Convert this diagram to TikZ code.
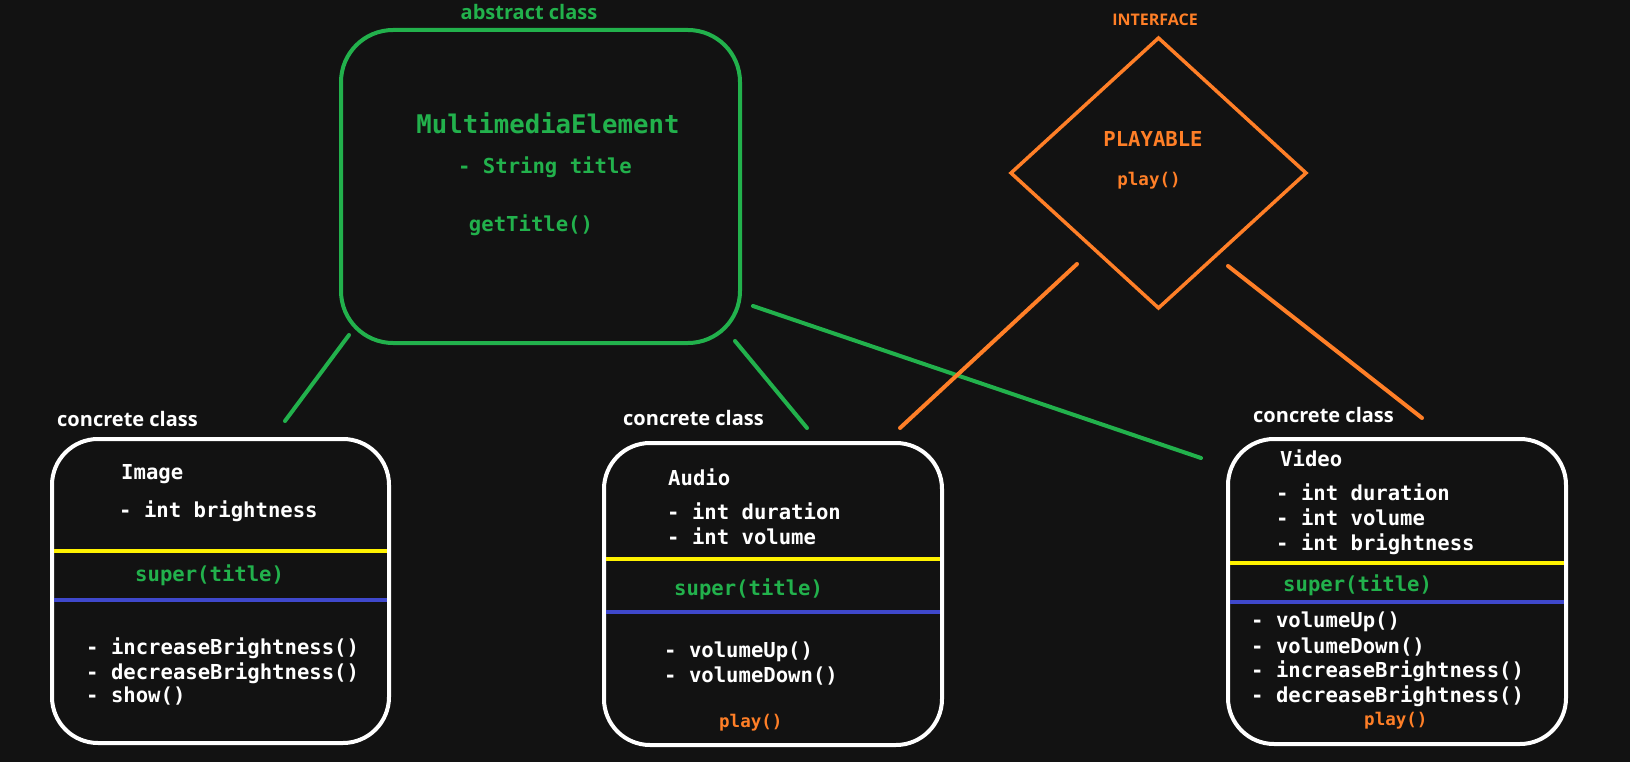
\documentclass[tikz,border=0pt]{standalone}
\usepackage{fontspec}
\setmainfont{Open Sans}
\newfontfamily\codefont{DejaVu Sans Mono}
\usetikzlibrary{shapes.geometric}
\definecolor{bg}{HTML}{121212}
\definecolor{pgreen}{HTML}{22B14C}
\definecolor{porange}{HTML}{FF7F27}
\definecolor{pyellow}{HTML}{FFF200}
\definecolor{pblue}{HTML}{3F48CC}
\begin{document}
\begin{tikzpicture}[x=1pt,y=-1pt,
  classbox/.style={draw=white, line width=4pt, rounded corners=46pt, inner sep=0pt, outer sep=0pt, anchor=north west},
  absbox/.style={draw=pgreen, line width=4pt, rounded corners=52pt, inner sep=0pt, outer sep=0pt, anchor=north west},
  iface/.style={draw=porange, line width=3.5pt, shape=diamond, inner sep=0pt, outer sep=0pt},
  lbl/.style={font=\bfseries\fontsize{20}{24}\selectfont, text=white, inner sep=0pt, anchor=base west},
  code/.style={font=\codefont\bfseries\fontsize{20.6}{24}\selectfont, text=white, inner sep=0pt, anchor=base west},
  bigcode/.style={font=\codefont\bfseries\fontsize{25.7}{30}\selectfont, text=pgreen, inner sep=0pt, anchor=base},
  smallcode/.style={font=\codefont\bfseries\fontsize{17.5}{21}\selectfont, text=porange, inner sep=0pt, anchor=base west},
  gline/.style={draw=pgreen, line width=4pt, line cap=round},
  oline/.style={draw=porange, line width=4pt, line cap=round},
  ysep/.style={draw=pyellow, line width=4.5pt},
  bsep/.style={draw=pblue, line width=4.5pt}]
\fill[bg] (0,0) rectangle (1630,762);
\useasboundingbox (0,0) rectangle (1630,762);

% abstract class
\node[absbox, minimum width=399pt, minimum height=313pt] (abs) at (341,30) {};
\node[lbl, text=pgreen, anchor=base] (abslbl) at (529,19.5) {abstract class};
\node[bigcode] (absname) at (548,133.5) {MultimediaElement};
\node[code, text=pgreen, anchor=base] (absattr) at (545,174) {- String title};
\node[code, text=pgreen, anchor=base] (absmeth) at (531,231) {getTitle()};

% interface
\node[iface, minimum width=295pt, minimum height=270pt] (play) at (1158.5,173) {};
\node[font=\bfseries\fontsize{16}{19}\selectfont, text=porange, inner sep=0pt, anchor=base] (ifacelbl) at (1155,26) {INTERFACE};
\node[code, text=porange, anchor=base] (playname) at (1153,146.5) {PLAYABLE};
\node[smallcode, anchor=base] (playmeth) at (1149,185.5) {play()};

% Image
\node[classbox, minimum width=337pt, minimum height=304pt] (img) at (52,439) {};
\draw[ysep] (54,551) -- (387,551);
\draw[bsep] (54,600) -- (387,600);
\node[lbl] (imglbl) at (57,426.5) {concrete class};
\node[code] (imgname) at (121,479) {Image};
\node[code] (imga1) at (119,517) {- int brightness};
\node[code, text=pgreen] (imgsup) at (135,581) {super(title)};
\node[code] (imgm1) at (86,654) {- increaseBrightness()};
\node[code] (imgm2) at (86,679) {- decreaseBrightness()};
\node[code] (imgm3) at (86,702) {- show()};

% Audio
\node[classbox, minimum width=338pt, minimum height=302pt] (aud) at (604,443) {};
\draw[ysep] (606,559) -- (940,559);
\draw[bsep] (606,612) -- (940,612);
\node[lbl] (audlbl) at (623,425.5) {concrete class};
\node[code] (audname) at (668,485) {Audio};
\node[code] (auda1) at (667,519) {- int duration};
\node[code] (auda2) at (667,544) {- int volume};
\node[code, text=pgreen] (audsup) at (674,595) {super(title)};
\node[code] (audm1) at (664,657) {- volumeUp()};
\node[code] (audm2) at (664,682) {- volumeDown()};
\node[smallcode] (audplay) at (719,727) {play()};

% Video
\node[classbox, minimum width=338pt, minimum height=305pt] (vid) at (1228,439) {};
\draw[ysep] (1230,563) -- (1564,563);
\draw[bsep] (1230,602) -- (1564,602);
\node[lbl] (vidlbl) at (1253,422.5) {concrete class};
\node[code] (vidname) at (1280,466) {Video};
\node[code] (vida1) at (1276,500) {- int duration};
\node[code] (vida2) at (1276,525) {- int volume};
\node[code] (vida3) at (1276,550) {- int brightness};
\node[code, text=pgreen] (vidsup) at (1283,591) {super(title)};
\node[code] (vidm1) at (1251,627) {- volumeUp()};
\node[code] (vidm2) at (1251,653) {- volumeDown()};
\node[code] (vidm3) at (1251,677) {- increaseBrightness()};
\node[code] (vidm4) at (1251,702) {- decreaseBrightness()};
\node[smallcode] (vidplay) at (1364,725) {play()};

% connectors
\coordinate (g1a) at (349,335); \coordinate (g1b) at (285,421);
\coordinate (g2a) at (735,341); \coordinate (g2b) at (807,428);
\coordinate (g3a) at (753,306); \coordinate (g3b) at (1201,458);
\coordinate (o1a) at (1077,264); \coordinate (o1b) at (900,428);
\coordinate (o2a) at (1228,266); \coordinate (o2b) at (1422,418);
\draw[gline] (g1a) -- (g1b);
\draw[gline] (g2a) -- (g2b);
\draw[gline] (g3a) -- (g3b);
\draw[oline] (o1a) -- (o1b);
\draw[oline] (o2a) -- (o2b);
\end{tikzpicture}
\end{document}
